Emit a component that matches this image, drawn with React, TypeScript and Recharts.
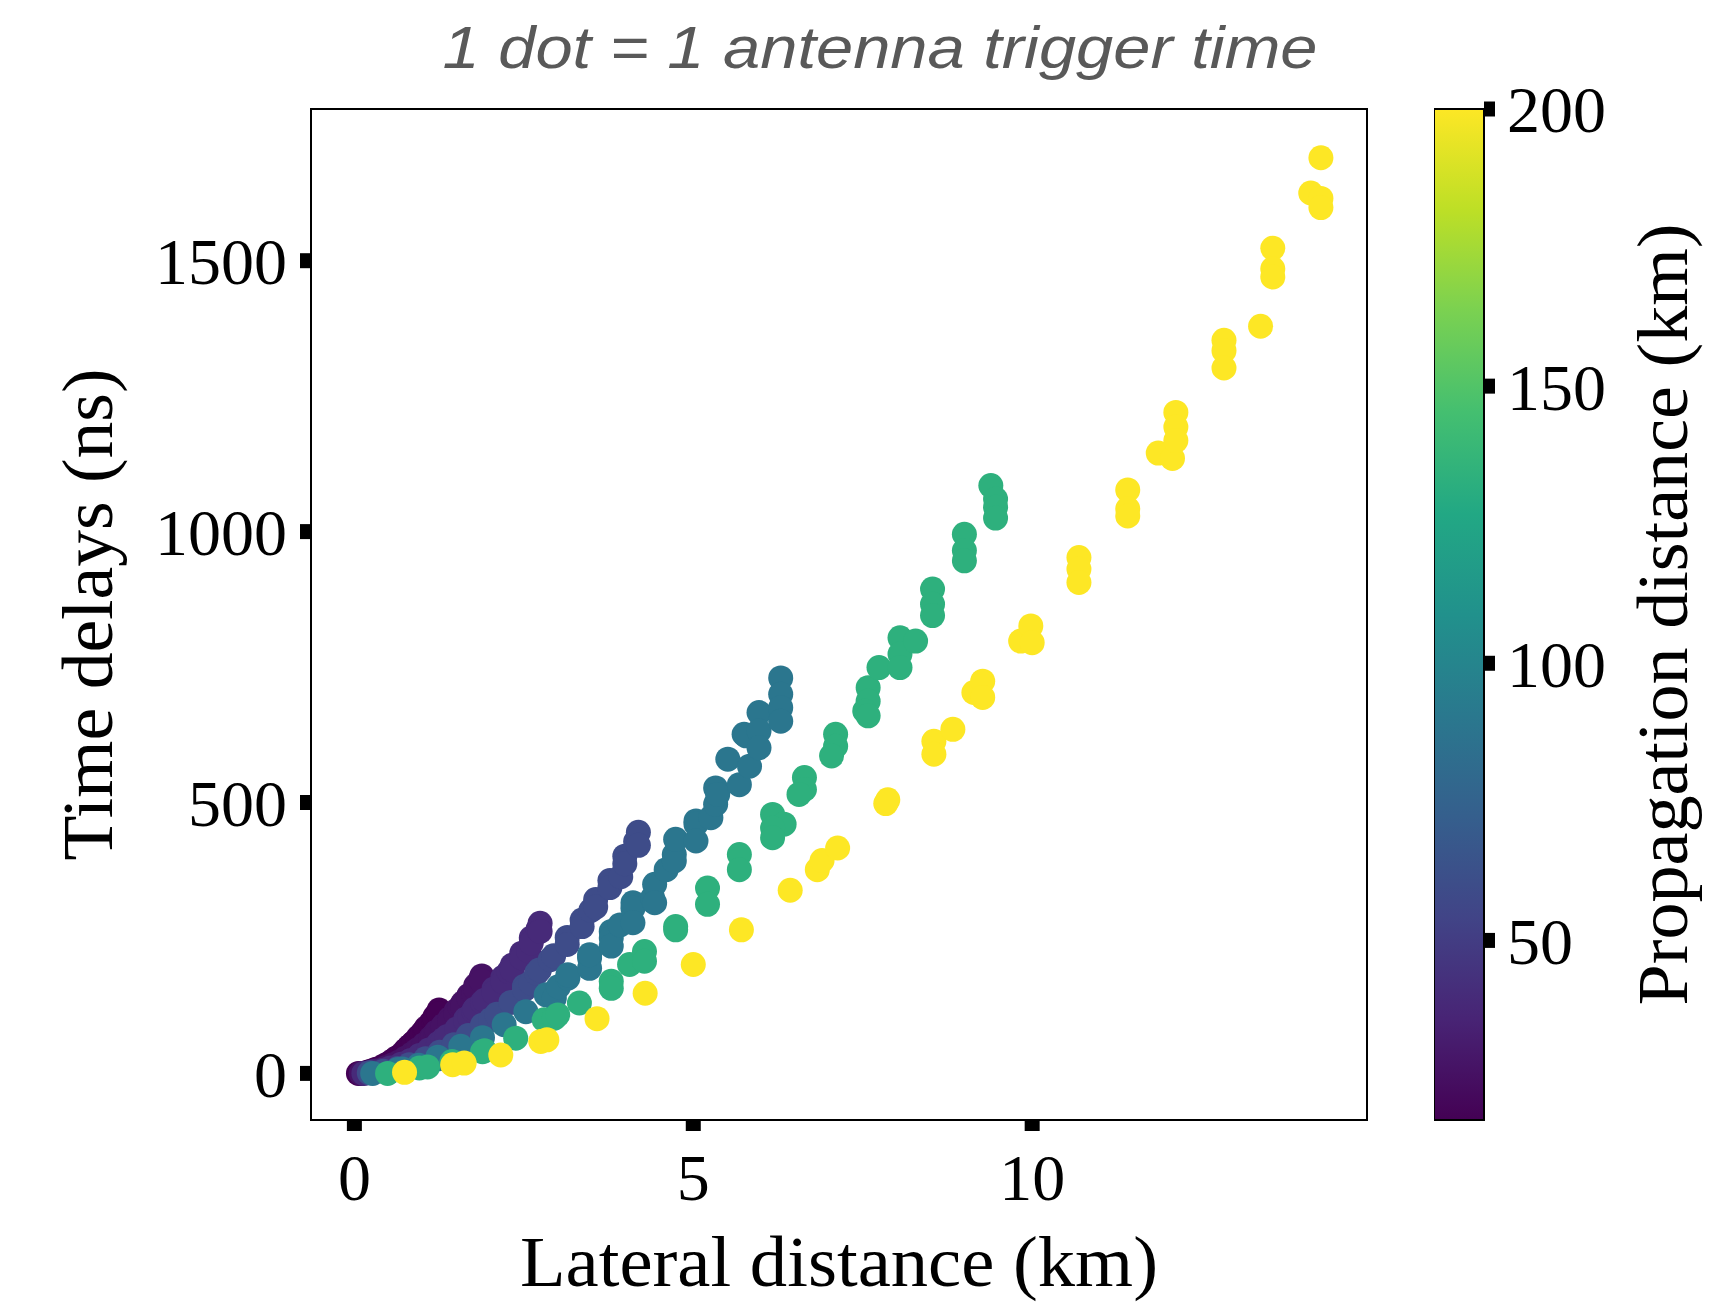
import React from "react";
import { ScatterChart, Scatter, XAxis, YAxis, ReferenceArea, Label } from "recharts";

// propagation distance of each shower (km), one dot colour per shower
const propagationKm = [17.6, 26.3, 39.5, 59.3, 88.9, 133.3, 200];

// [lateral distance (km), time delay (ns)]
const shower17: [number, number][] = [
  [0.06, 0], [0.19, 2], [0.24, 4], [0.31, 7], [0.38, 10], [0.44, 14], [0.5, 18], [0.56, 23],
  [0.6, 26], [0.63, 29], [0.69, 34], [0.75, 42], [0.75, 40], [0.78, 44], [0.81, 49], [0.8, 48],
  [0.86, 55], [0.88, 57], [0.94, 66], [0.94, 62], [1.0, 74], [1.0, 71], [1.04, 79], [1.06, 84],
  [1.06, 81], [1.13, 93], [1.13, 90], [1.17, 95], [1.19, 105], [1.19, 101], [1.24, 112], [1.25, 117],
  [1.25, 110],
];
const shower26: [number, number][] = [
  [0.1, 0], [0.28, 4], [0.36, 6], [0.47, 11], [0.57, 16], [0.66, 21], [0.75, 28], [0.85, 36],
  [0.9, 40], [0.94, 44], [1.03, 53], [1.13, 65], [1.13, 62], [1.16, 68], [1.2, 75], [1.22, 77],
  [1.3, 85], [1.31, 88], [1.41, 101], [1.41, 96], [1.5, 115], [1.5, 109], [1.56, 122], [1.6, 130],
  [1.6, 124], [1.69, 144], [1.69, 139], [1.76, 147], [1.79, 162], [1.79, 156], [1.86, 173], [1.88, 180],
  [1.88, 170],
];
const shower39: [number, number][] = [
  [0.14, 0], [0.28, 3], [0.42, 6], [0.53, 10], [0.69, 17], [0.83, 24], [0.96, 33], [1.1, 43],
  [1.24, 55], [1.31, 62], [1.37, 68], [1.51, 82], [1.64, 100], [1.64, 97], [1.7, 104], [1.76, 115],
  [1.78, 119], [1.89, 131], [1.92, 135], [2.06, 156], [2.06, 149], [2.19, 177], [2.19, 169], [2.28, 188],
  [2.33, 200], [2.33, 191], [2.47, 222], [2.47, 213], [2.57, 226], [2.61, 250], [2.61, 241], [2.71, 266],
  [2.74, 277], [2.74, 262],
];
const shower59: [number, number][] = [
  [0.22, 1], [0.43, 4], [0.64, 9], [0.81, 16], [1.05, 27], [1.26, 39], [1.47, 53], [1.68, 70],
  [1.89, 89], [2.01, 99], [2.1, 109], [2.31, 131], [2.51, 161], [2.51, 155], [2.6, 167], [2.69, 185],
  [2.73, 191], [2.89, 210], [2.94, 217], [3.14, 251], [3.14, 238], [3.36, 283], [3.36, 271], [3.49, 301],
  [3.56, 321], [3.56, 307], [3.77, 356], [3.77, 343], [3.93, 363], [3.99, 401], [3.99, 387], [4.15, 428],
  [4.19, 445], [4.19, 421],
];
const shower89: [number, number][] = [
  [0.27, 0], [0.64, 7], [0.71, 8], [0.95, 15], [1.23, 30], [1.25, 27], [1.57, 50], [1.89, 66],
  [2.21, 90], [2.53, 114], [2.83, 145], [2.95, 139], [3.01, 160], [3.15, 176], [3.15, 182], [3.47, 213],
  [3.47, 194], [3.47, 219], [3.79, 262], [3.79, 250], [3.79, 235], [3.92, 274], [4.11, 315], [4.11, 305],
  [4.11, 278], [4.4, 324], [4.43, 349], [4.43, 315], [4.6, 376], [4.72, 404], [4.72, 392], [4.74, 432],
  [5.04, 466], [5.04, 460], [5.04, 429], [5.26, 472], [5.33, 527], [5.33, 497], [5.36, 515], [5.51, 580],
  [5.68, 533], [5.75, 626], [5.78, 623], [5.83, 567], [5.97, 666], [5.97, 632], [5.97, 601], [6.29, 730],
  [6.29, 700], [6.29, 675], [6.29, 650],
];
const shower133: [number, number][] = [
  [0.49, 0], [0.96, 10], [1.08, 12], [1.44, 22], [1.89, 40], [1.92, 42], [2.38, 65], [2.8, 99],
  [2.95, 102], [3.0, 108], [3.32, 130], [3.79, 170], [3.79, 157], [4.06, 201], [4.28, 225], [4.28, 207],
  [4.74, 271], [4.74, 265], [5.21, 342], [5.21, 312], [5.68, 404], [5.68, 376], [6.17, 478], [6.34, 460],
  [6.17, 453], [6.17, 435], [6.64, 546], [6.64, 524], [6.56, 515], [7.1, 626], [7.1, 604], [7.04, 586],
  [7.58, 712], [7.58, 687], [7.53, 669], [7.58, 660], [7.74, 749], [8.05, 804], [8.05, 774], [8.05, 749],
  [8.28, 798], [8.53, 894], [8.53, 866], [8.53, 845], [9.0, 995], [9.0, 965], [9.0, 946], [9.39, 1085],
  [9.46, 1060], [9.46, 1045], [9.46, 1025],
];
const shower200: [number, number][] = [
  [0.74, 2], [1.45, 16], [1.62, 19], [2.16, 34], [2.75, 59], [2.84, 62], [3.58, 101], [4.29, 148],
  [5.0, 201], [5.71, 265], [6.43, 338], [6.83, 376], [6.9, 393], [7.13, 416], [7.84, 498], [7.87, 505],
  [8.55, 613], [8.55, 589], [8.83, 635], [9.14, 703], [9.27, 724], [9.27, 694], [9.83, 798], [9.98, 826],
  [10.0, 795], [10.69, 952], [10.69, 931], [10.69, 906], [11.41, 1077], [11.41, 1042], [11.41, 1029],
  [11.86, 1145], [12.07, 1135], [12.12, 1220], [12.12, 1193], [12.12, 1168], [12.83, 1353], [12.83, 1334],
  [12.83, 1302], [13.37, 1379], [13.55, 1523], [13.55, 1485], [13.55, 1470], [14.11, 1625], [14.26, 1690],
  [14.26, 1615], [14.26, 1598],
];
const showers = [shower17, shower26, shower39, shower59, shower89, shower133, shower200];

const xTicks = [0, 5, 10];
const yTicks = [0, 500, 1000, 1500];
const cbTicks = [50, 100, 150, 200];

const X_DOMAIN: [number, number] = [-0.64, 14.94];
const Y_DOMAIN: [number, number] = [-86, 1780];
const CB_DOMAIN: [number, number] = [17.6, 200];

// viridis sampled every 0.1
const VIRIDIS = [
  "#440154", "#482475", "#414487", "#355f8d", "#2a788e", "#21918c",
  "#22a884", "#44bf70", "#7ad151", "#bddf26", "#fde725",
];

const hex = (c: string) => [1, 3, 5].map((i) => parseInt(c.slice(i, i + 2), 16));

function viridis(v: number) {
  const t = Math.min(1, Math.max(0, (v - CB_DOMAIN[0]) / (CB_DOMAIN[1] - CB_DOMAIN[0])));
  const pos = t * (VIRIDIS.length - 1);
  const i = Math.min(VIRIDIS.length - 2, Math.floor(pos));
  const f = pos - i;
  const a = hex(VIRIDIS[i]);
  const b = hex(VIRIDIS[i + 1]);
  const rgb = a.map((ch, k) => Math.round(ch + (b[k] - ch) * f));
  return `rgb(${rgb.join(",")})`;
}

const serif = "Liberation Serif, Times New Roman, serif";
const tickStyle = { fontFamily: serif, fontSize: 66, fill: "#000" };
const tickMark = { stroke: "#000", strokeWidth: 15 };

const dotShape = (fill: string) => (p: any) =>
  <circle cx={p.cx} cy={p.cy} r={12.5} fill={fill} />;

export default function App() {
  return (
    <div style={{ position: "absolute", left: 0, top: 0, width: 1715, height: 1309, background: "#fff" }}>
      <svg width={1715} height={120} style={{ position: "absolute", left: 0, top: 0 }}>
        <text
          x={880}
          y={68}
          textAnchor="middle"
          fontFamily="Liberation Sans, Arial, sans-serif"
          fontStyle="italic"
          fontSize={60}
          fill="#595959"
          textLength={875}
          lengthAdjust="spacingAndGlyphs"
        >
          1 dot = 1 antenna trigger time
        </text>
      </svg>

      <div style={{ position: "absolute", left: 0, top: 0 }}>
        <ScatterChart width={1715} height={1309} margin={{ top: 109, right: 348, bottom: 0, left: 0 }}>
          <XAxis
            type="number"
            dataKey="x"
            domain={X_DOMAIN}
            allowDataOverflow
            ticks={xTicks}
            height={189}
            tick={tickStyle}
            tickSize={11}
            tickMargin={22}
            tickLine={tickMark}
            axisLine={{ stroke: "#000", strokeWidth: 2 }}
          >
            <Label
              content={(props: any) => {
                const vb = props.viewBox;
                return (
                  <text
                    x={vb.x + vb.width / 2}
                    y={vb.y + 166}
                    textAnchor="middle"
                    fontFamily={serif}
                    fontSize={72}
                    fill="#000"
                    textLength={638}
                    lengthAdjust="spacingAndGlyphs"
                  >
                    Lateral distance (km)
                  </text>
                );
              }}
            />
          </XAxis>
          <YAxis
            type="number"
            dataKey="y"
            domain={Y_DOMAIN}
            allowDataOverflow
            ticks={yTicks}
            width={311}
            tick={tickStyle}
            tickSize={11}
            tickMargin={13}
            tickLine={tickMark}
            axisLine={{ stroke: "#000", strokeWidth: 2 }}
          >
            <Label
              content={(props: any) => {
                const vb = props.viewBox;
                const cy = vb.y + vb.height / 2;
                return (
                  <text
                    x={112}
                    y={cy}
                    transform={`rotate(-90, 112, ${cy})`}
                    textAnchor="middle"
                    fontFamily={serif}
                    fontSize={72}
                    fill="#000"
                    textLength={492}
                    lengthAdjust="spacingAndGlyphs"
                  >
                    Time delays (ns)
                  </text>
                );
              }}
            />
          </YAxis>
          <ReferenceArea
            x1={X_DOMAIN[0]}
            x2={X_DOMAIN[1]}
            y1={Y_DOMAIN[0]}
            y2={Y_DOMAIN[1]}
            fill="none"
            stroke="#000"
            strokeWidth={2}
            ifOverflow="visible"
          />
          {showers.map((pts, i) => {
            const color = viridis(propagationKm[i]);
            return (
              <Scatter
                key={propagationKm[i]}
                data={pts.map(([x, y]) => ({ x, y }))}
                fill={color}
                shape={dotShape(color)}
                isAnimationActive={false}
              />
            );
          })}
        </ScatterChart>
      </div>

      <div style={{ position: "absolute", left: 1434, top: 0 }}>
        <ScatterChart width={281} height={1309} margin={{ top: 109, right: 0, bottom: 189, left: 0 }}>
          <defs>
            <linearGradient id="viridisCb" x1="0" y1="1" x2="0" y2="0">
              {VIRIDIS.map((c, i) => (
                <stop key={c} offset={i / (VIRIDIS.length - 1)} stopColor={c} />
              ))}
            </linearGradient>
          </defs>
          <XAxis type="number" dataKey="x" domain={[0, 1]} hide allowDataOverflow />
          <YAxis
            type="number"
            dataKey="y"
            orientation="right"
            domain={CB_DOMAIN}
            allowDataOverflow
            ticks={cbTicks}
            width={231}
            tick={{ ...tickStyle, textAnchor: "start" }}
            tickSize={11}
            tickMargin={12}
            tickLine={tickMark}
            axisLine={false}
          >
            <Label
              content={(props: any) => {
                const vb = props.viewBox;
                const cy = vb.y + vb.height / 2;
                return (
                  <text
                    x={253}
                    y={cy}
                    transform={`rotate(-90, 253, ${cy})`}
                    textAnchor="middle"
                    fontFamily={serif}
                    fontSize={72}
                    fill="#000"
                    textLength={782}
                    lengthAdjust="spacingAndGlyphs"
                  >
                    Propagation distance (km)
                  </text>
                );
              }}
            />
          </YAxis>
          <ReferenceArea
            x1={0}
            x2={1}
            y1={CB_DOMAIN[0]}
            y2={CB_DOMAIN[1]}
            fill="url(#viridisCb)"
            fillOpacity={1}
            stroke="#000"
            strokeWidth={2}
            ifOverflow="visible"
          />
          <Scatter data={[]} isAnimationActive={false} />
        </ScatterChart>
      </div>
    </div>
  );
}
